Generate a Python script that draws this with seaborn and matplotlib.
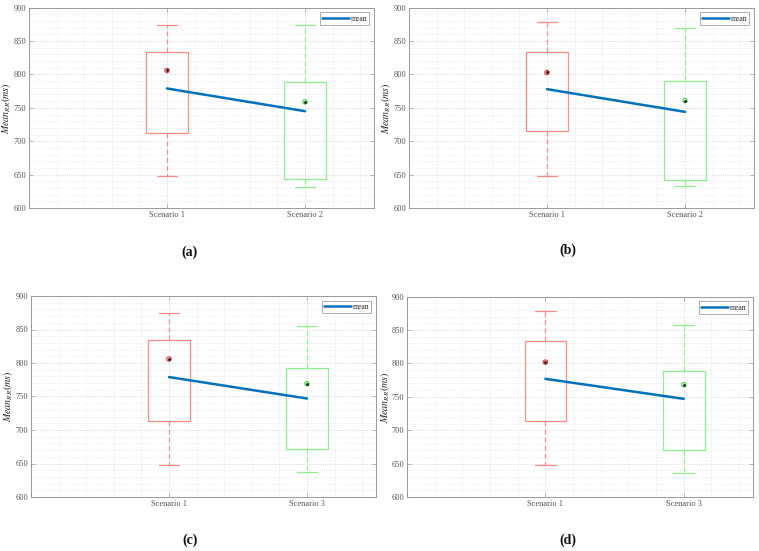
import numpy as np
import pandas as pd
import matplotlib
matplotlib.use("Agg")
import matplotlib.pyplot as plt
from matplotlib.ticker import MultipleLocator, FixedLocator
import seaborn as sns

sns.set_style("white")
plt.rcParams['font.family'] = ['Liberation Serif', 'DejaVu Serif']
plt.rcParams['mathtext.fontset'] = 'stix'

# ---------------- data ----------------
panel_labels = ['(a)', '(b)', '(c)', '(d)']
cats_ab = ['Scenario 1', 'Scenario 2']
cats_cd = ['Scenario 1', 'Scenario 3']

low_a = [648, 632]; q1_a = [713, 643]; med_a = [806, 759]; q3_a = [834, 789]; high_a = [874, 874]; mean_a = [779, 745]
low_b = [648, 633]; q1_b = [715, 642]; med_b = [803, 761]; q3_b = [834, 790]; high_b = [879, 869]; mean_b = [778, 744]
low_c = [648, 637]; q1_c = [714, 672]; med_c = [806, 769]; q3_c = [834, 792]; high_c = [874, 855]; mean_c = [779, 747]
low_d = [648, 636]; q1_d = [714, 670]; med_d = [802, 768]; q3_d = [833, 789]; high_d = [878, 857]; mean_d = [777, 747]

panels = [
    (cats_ab, low_a, q1_a, med_a, q3_a, high_a, mean_a),
    (cats_ab, low_b, q1_b, med_b, q3_b, high_b, mean_b),
    (cats_cd, low_c, q1_c, med_c, q3_c, high_c, mean_c),
    (cats_cd, low_d, q1_d, med_d, q3_d, high_d, mean_d),
]

box_colors = ['#ff8a8a', '#8af28a']
median_colors = ['#e8343a', '#3cd83c']
mean_color = '#0072BD'
spine_color = '#9a9a9a'
tick_color = '#555555'

# axes rectangles in figure pixels
W, H = 759, 551
rects = [
    (29, 7.7, 374, 208),
    (409, 7.7, 754, 208),
    (31, 296, 376, 497),
    (407, 296.7, 753, 497),
]
caption_pos = [(189, 252), (568, 250), (190, 540), (568, 540)]

fig = plt.figure(figsize=(W / 100, H / 100), dpi=100)

for i, (cats, lo, q1, md, q3, hi, mn) in enumerate(panels):
    x0, y0, x1, y1 = rects[i]
    ax = fig.add_axes([x0 / W, 1 - y1 / H, (x1 - x0) / W, (y1 - y0) / H])
    rows = []
    for k, c in enumerate(cats):
        for v in (lo[k], q1[k], md[k], q3[k], hi[k]):
            rows.append({'cat': c, 'val': v})
    df = pd.DataFrame(rows)
    sns.boxplot(data=df, x='cat', y='val', hue='cat', order=cats, hue_order=cats,
                palette=box_colors, fill=False, width=0.3, whis=1.5, legend=False,
                linewidth=0.9, ax=ax,
                whiskerprops={'linestyle': (0, (4, 2.5))},
                medianprops={'visible': False})
    pos = np.arange(len(cats))
    # mean line
    sns.lineplot(x=pos, y=mn, color=mean_color, linewidth=1.8, ax=ax, label='mean')
    # median markers
    ax.scatter(pos, md, s=10, facecolors='none', edgecolors=median_colors, linewidths=0.8, zorder=5)
    ax.scatter(pos, md, s=1.2, color='#202020', zorder=6)

    ax.set_xlim(-1, 1.5)
    ax.set_ylim(600, 900)
    ax.xaxis.set_major_locator(FixedLocator(pos))
    ax.set_xticklabels(cats)
    ax.xaxis.set_minor_locator(MultipleLocator(0.2))
    ax.yaxis.set_major_locator(MultipleLocator(50))
    ax.yaxis.set_minor_locator(MultipleLocator(10))
    ax.grid(True, which='major', color='#cccccc', linestyle=':', linewidth=0.6)
    ax.grid(True, which='minor', color='#e0e0e0', linestyle=':', linewidth=0.5)
    ax.set_axisbelow(True)
    ax.tick_params(which='major', direction='in', length=3, width=0.5, color=spine_color,
                   labelsize=6, labelcolor=tick_color, pad=2,
                   left=True, bottom=True, right=True, top=True)
    ax.tick_params(which='minor', length=0)
    for sp in ax.spines.values():
        sp.set_color(spine_color)
        sp.set_linewidth(0.7)
    ax.set_xlabel('')
    ax.set_ylabel(r'$Mean_{RR}(ms)$', fontsize=7.2, color='#222222')
    ax.yaxis.set_label_coords(-15.5 / (x1 - x0), 0.5)
    leg = ax.legend(loc='upper right', fontsize=5.5, frameon=True, fancybox=False,
                    handlelength=3.5, borderpad=0.3, handletextpad=0.2, borderaxespad=0.6)
    leg.get_frame().set_edgecolor('#888888')
    leg.get_frame().set_linewidth(0.6)

    cx, cy = caption_pos[i]
    fig.text(cx / W, 1 - cy / H, panel_labels[i], ha='center', va='center',
             fontsize=10, fontweight='bold', color='#111111')

fig.savefig('out.png', dpi=100)
